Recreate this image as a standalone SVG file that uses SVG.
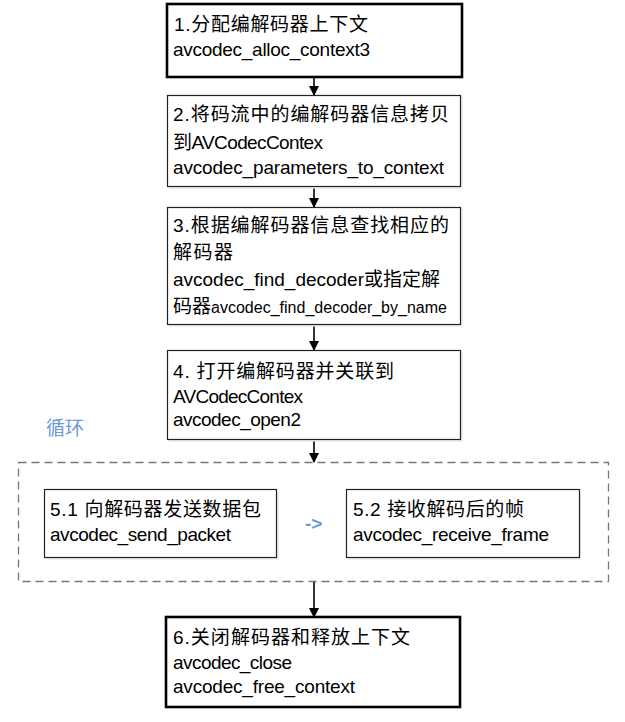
<svg xmlns="http://www.w3.org/2000/svg" width="625" height="722" viewBox="0 0 625 722">
<defs>
<style>
text{font-family:"Liberation Sans","Noto Sans CJK SC",sans-serif;font-size:19px;fill:#000}
.box{fill:#fff;stroke:#222;stroke-width:1.2}
.thick{fill:#fff;stroke:#000;stroke-width:2.6}
.shadow{fill:#dfe6f0;opacity:0.6}
.conn{stroke:#000;stroke-width:1.6;fill:none}
.blue{fill:#6b9bd6}
</style>
<marker id="ah" markerWidth="10" markerHeight="10" refX="9" refY="5" orient="auto" markerUnits="userSpaceOnUse">
<path d="M0,0 L10,5 L0,10 Z" fill="#000"/>
</marker>
</defs>
<rect width="625" height="722" fill="#fff"/>
<g id="loop">
<rect x="18.5" y="462.5" width="590" height="119" fill="none" stroke="#777" stroke-width="1.3" stroke-dasharray="8,5"/>
<text class="blue" x="46" y="435" textLength="38">循环</text>
</g>
<g id="connectors">
<line class="conn" x1="314" y1="78" x2="314" y2="95" marker-end="url(#ah)"/>
<line class="conn" x1="314" y1="188" x2="314" y2="207" marker-end="url(#ah)"/>
<line class="conn" x1="314" y1="326" x2="314" y2="350" marker-end="url(#ah)"/>
<line class="conn" x1="314" y1="441" x2="314" y2="462" marker-end="url(#ah)"/>
<line class="conn" x1="314" y1="582" x2="314" y2="617" marker-end="url(#ah)"/>
<text class="blue" x="305" y="530" font-size="15" font-weight="bold">-&gt;</text>
</g>
<g id="n1">
<rect class="thick" x="167" y="4" width="295" height="73"/>
<text x="174" y="31" textLength="194">1.分配编解码器上下文</text>
<text x="173" y="56" textLength="197">avcodec_alloc_context3</text>
</g>
<g id="n2">
<rect class="shadow" x="169" y="97" width="294" height="92"/>
<rect class="box" x="167.5" y="95.5" width="293" height="91"/>
<text x="173" y="121" textLength="276">2.将码流中的编解码器信息拷贝</text>
<text x="173" y="149" textLength="150">到AVCodecContex</text>
<text x="173" y="174" textLength="271">avcodec_parameters_to_context</text>
</g>
<g id="n3">
<rect class="shadow" x="169" y="209" width="294" height="118"/>
<rect class="box" x="167.5" y="207.5" width="293" height="117"/>
<text x="173" y="232" textLength="276">3.根据编解码器信息查找相应的</text>
<text x="173" y="259" textLength="60">解码器</text>
<text x="173" y="286" textLength="267">avcodec_find_decoder或指定解</text>
<text x="173" y="313" textLength="274">码器<tspan font-size="16">avcodec_find_decoder_by_name</tspan></text>
</g>
<g id="n4">
<rect class="shadow" x="169" y="352" width="294" height="90"/>
<rect class="box" x="167.5" y="350.5" width="293" height="89"/>
<text x="173" y="378" textLength="221">4. 打开编解码器并关联到</text>
<text x="173" y="403" textLength="130">AVCodecContex</text>
<text x="173" y="426" textLength="128">avcodec_open2</text>
</g>
<g id="n51">
<rect class="shadow" x="46" y="491" width="233" height="69"/>
<rect class="box" x="44.5" y="489.5" width="232" height="68"/>
<text x="50" y="516" textLength="211">5.1 向解码器发送数据包</text>
<text x="50" y="541" textLength="181">avcodec_send_packet</text>
</g>
<g id="n52">
<rect class="shadow" x="348" y="491" width="233" height="69"/>
<rect class="box" x="346.5" y="489.5" width="233" height="68"/>
<text x="353" y="516" textLength="171">5.2 接收解码后的帧</text>
<text x="353" y="541" textLength="196">avcodec_receive_frame</text>
</g>
<g id="n6">
<rect class="thick" x="166" y="617" width="294" height="90"/>
<text x="173" y="644" textLength="237">6.关闭解码器和释放上下文</text>
<text x="173" y="669" textLength="119">avcodec_close</text>
<text x="173" y="693" textLength="182">avcodec_free_context</text>
</g>
</svg>
